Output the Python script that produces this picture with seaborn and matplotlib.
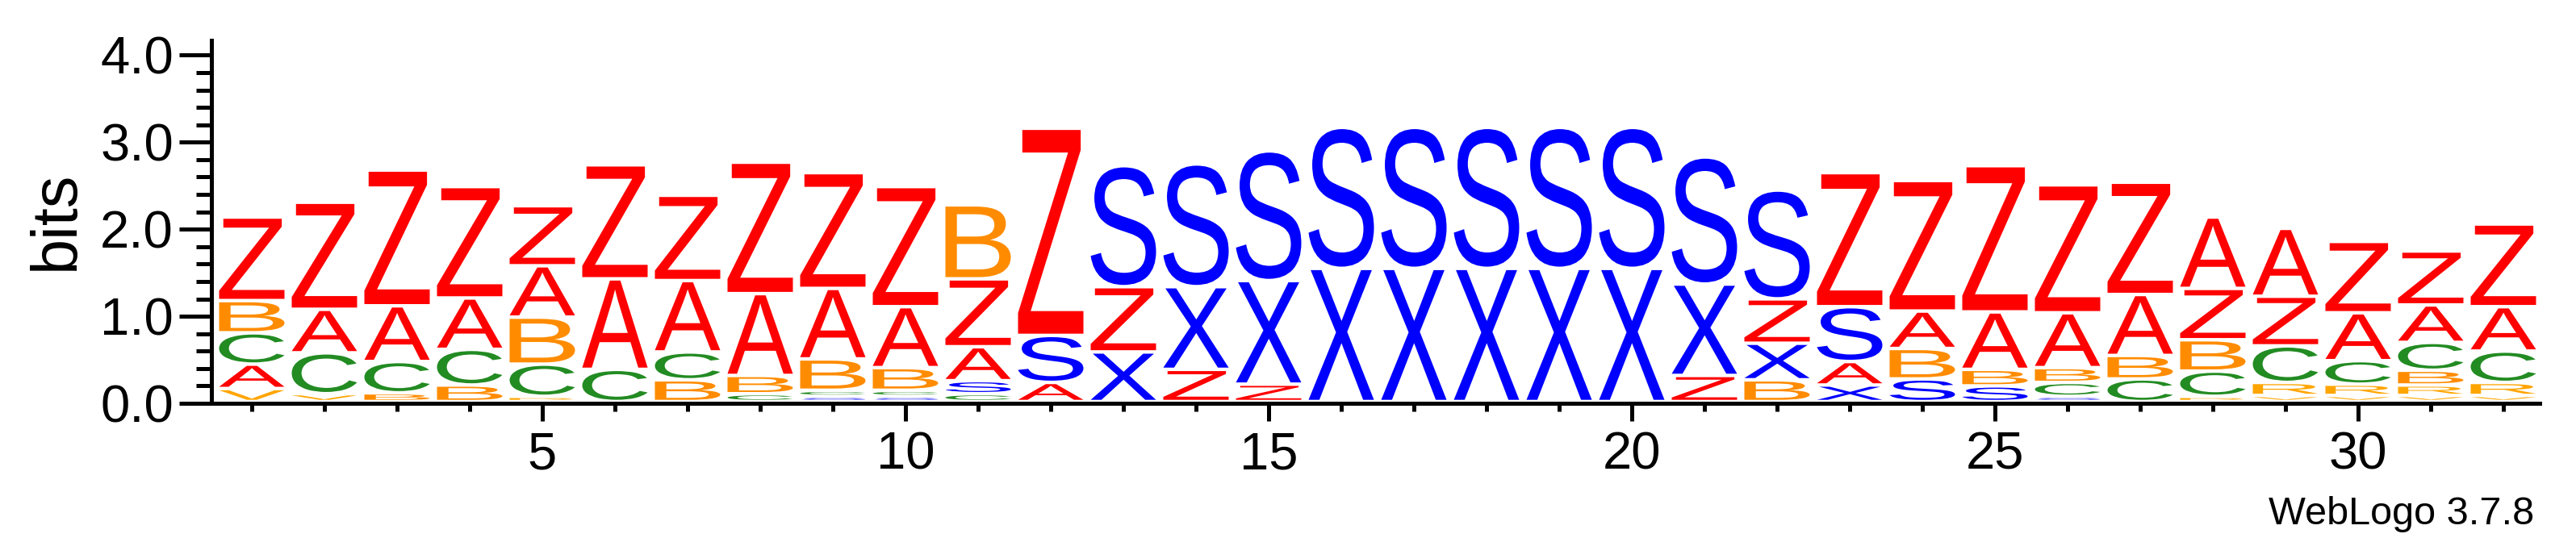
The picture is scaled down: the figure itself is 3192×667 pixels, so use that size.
import matplotlib
matplotlib.use("Agg")
import matplotlib.pyplot as plt
import seaborn as sns
import numpy as np
from matplotlib.textpath import TextPath
from matplotlib.patches import PathPatch
from matplotlib.font_manager import FontProperties
from matplotlib.transforms import Affine2D
from matplotlib.ticker import MultipleLocator, FixedLocator

# sequence positions 1..32
positions = list(range(1, 33))

Z_bits = [0.92, 1.19, 1.52, 1.24, 0.65, 1.27, 0.94, 1.47, 1.29, 1.34, 0.74, 2.34,
          0.71, 0.33, 0.16, 0, 0, 0, 0, 0, 0.26, 0.47, 1.50, 1.46, 1.64, 1.43,
          1.25, 0.55, 0.53, 0.78, 0.58, 0.91]
A_bits = [0.24, 0.46, 0.60, 0.55, 0.55, 1.00, 0.78, 0.90, 0.77, 0.66, 0.35, 0.18,
          0, 0, 0, 0, 0, 0, 0, 0, 0, 0, 0.23, 0.39, 0.62, 0.59,
          0.66, 0.78, 0.74, 0.51, 0.39, 0.47]
B_bits = [0.33, 0, 0.06, 0.15, 0.50, 0, 0.21, 0.17, 0.32, 0.22, 0.81, 0,
          0, 0, 0, 0, 0, 0, 0, 0, 0, 0.21, 0, 0.31, 0.15, 0.13,
          0.23, 0.32, 0, 0, 0.13, 0]
C_bits = [0.32, 0.43, 0.32, 0.37, 0.33, 0.33, 0.28, 0.05, 0.03, 0.03, 0.05, 0,
          0, 0, 0, 0, 0, 0, 0, 0, 0, 0, 0, 0, 0, 0.12,
          0.22, 0.25, 0.38, 0.23, 0.28, 0.32]
S_bits = [0, 0, 0, 0, 0, 0, 0, 0, 0.02, 0.02, 0.11, 0.50,
          1.35, 1.37, 1.45, 1.58, 1.58, 1.58, 1.58, 1.58, 1.42, 1.21, 0.59, 0.22, 0.14, 0.02,
          0, 0, 0, 0, 0, 0]
X_bits = [0, 0, 0, 0, 0, 0, 0, 0, 0, 0, 0, 0,
          0.53, 0.91, 1.15, 1.49, 1.49, 1.49, 1.49, 1.49, 1.01, 0.38, 0.15, 0, 0, 0,
          0, 0, 0, 0, 0, 0]
R_bits = [0, 0, 0, 0, 0.02, 0, 0, 0, 0, 0, 0, 0,
          0, 0, 0, 0, 0, 0, 0, 0, 0, 0, 0, 0, 0, 0,
          0, 0.02, 0.11, 0.09, 0.08, 0.11]
V_bits = [0.11, 0.05, 0, 0, 0, 0, 0, 0, 0, 0, 0, 0,
          0, 0, 0, 0, 0, 0, 0, 0, 0, 0, 0, 0, 0, 0,
          0, 0, 0.03, 0.03, 0.03, 0.03]

letter_bits = {"Z": Z_bits, "A": A_bits, "B": B_bits, "C": C_bits,
               "S": S_bits, "X": X_bits, "R": R_bits, "V": V_bits}

letter_colors = {"Z": "#FF0000", "A": "#FF0000", "B": "#FF8C00", "C": "#228B22",
                 "S": "#0000FF", "X": "#0000FF", "R": "#FFA500", "V": "#FFA500"}

x_tick_labels = ["5", "10", "15", "20", "25", "30"]
y_tick_labels = ["0.0", "1.0", "2.0", "3.0", "4.0"]

sns.set_theme(style="ticks")
plt.rcParams["font.family"] = ["Liberation Sans", "DejaVu Sans"]
# WebLogo draws everything in pure black
for key in ["text.color", "axes.edgecolor", "axes.labelcolor", "xtick.color", "ytick.color"]:
    plt.rcParams[key] = "black"

LETTER_WIDTH = 0.9
GAP = 0.04
glyph_font = FontProperties(family="Liberation Sans")


def draw_letter(ax, letter, x, y, h, color):
    tp = TextPath((0, 0), letter, size=1, prop=glyph_font)
    ext = tp.get_extents()
    sx = LETTER_WIDTH / ext.width
    sy = h / ext.height
    tr = (Affine2D().translate(-ext.x0, -ext.y0).scale(sx, sy)
          .translate(x - LETTER_WIDTH / 2, y))
    path = tr.transform_path(tp)
    ax.add_patch(PathPatch(path, facecolor=color, edgecolor="none", lw=0))


fig = plt.figure(figsize=(31.92, 6.67), dpi=100)
ax = fig.add_axes([267 / 3192, 167 / 667, 2880 / 3192, 450 / 667])

for i, pos in enumerate(positions):
    stack = [(k, v[i]) for k, v in letter_bits.items() if v[i] > 0]
    stack.sort(key=lambda t: t[1])
    y = GAP
    for letter, h in stack:
        draw_letter(ax, letter, pos, y, h, letter_colors[letter])
        y += h + GAP

ax.set_xlim(0.5, 32.5)
ax.set_ylim(0, 4.17)

sns.despine(ax=ax)
ax.spines["left"].set_position(("outward", 3.6))
ax.spines["left"].set_linewidth(3.6)
ax.spines["bottom"].set_linewidth(3.6)
ax.spines["left"].set_color("black")
ax.spines["bottom"].set_color("black")

ax.xaxis.set_major_locator(FixedLocator([5, 10, 15, 20, 25, 30]))
ax.xaxis.set_minor_locator(FixedLocator(positions))
ax.set_xticklabels(x_tick_labels)
ax.yaxis.set_major_locator(FixedLocator([0, 1, 2, 3, 4]))
ax.yaxis.set_minor_locator(MultipleLocator(0.2))
ax.set_yticklabels(y_tick_labels)

ax.tick_params(axis="x", which="major", length=16, width=3.6, labelsize=47, pad=9,
               color="black", labelcolor="black")
ax.tick_params(axis="x", which="minor", length=7, width=3.6, color="black")
ax.tick_params(axis="y", which="major", length=29, width=3.6, labelsize=47, pad=5,
               color="black", labelcolor="black")
ax.tick_params(axis="y", which="minor", length=14, width=3.6, color="black")
ax.grid(False)

fig.text(70 / 3192, 1 - 273 / 667, "bits", rotation=90, ha="center", va="center",
         fontsize=57, color="black")
fig.text(3140 / 3192, 1 - 650 / 667, "WebLogo 3.7.8", ha="right", va="baseline",
         fontsize=35, color="black")

fig.savefig("out.png", dpi=100, facecolor="white")
